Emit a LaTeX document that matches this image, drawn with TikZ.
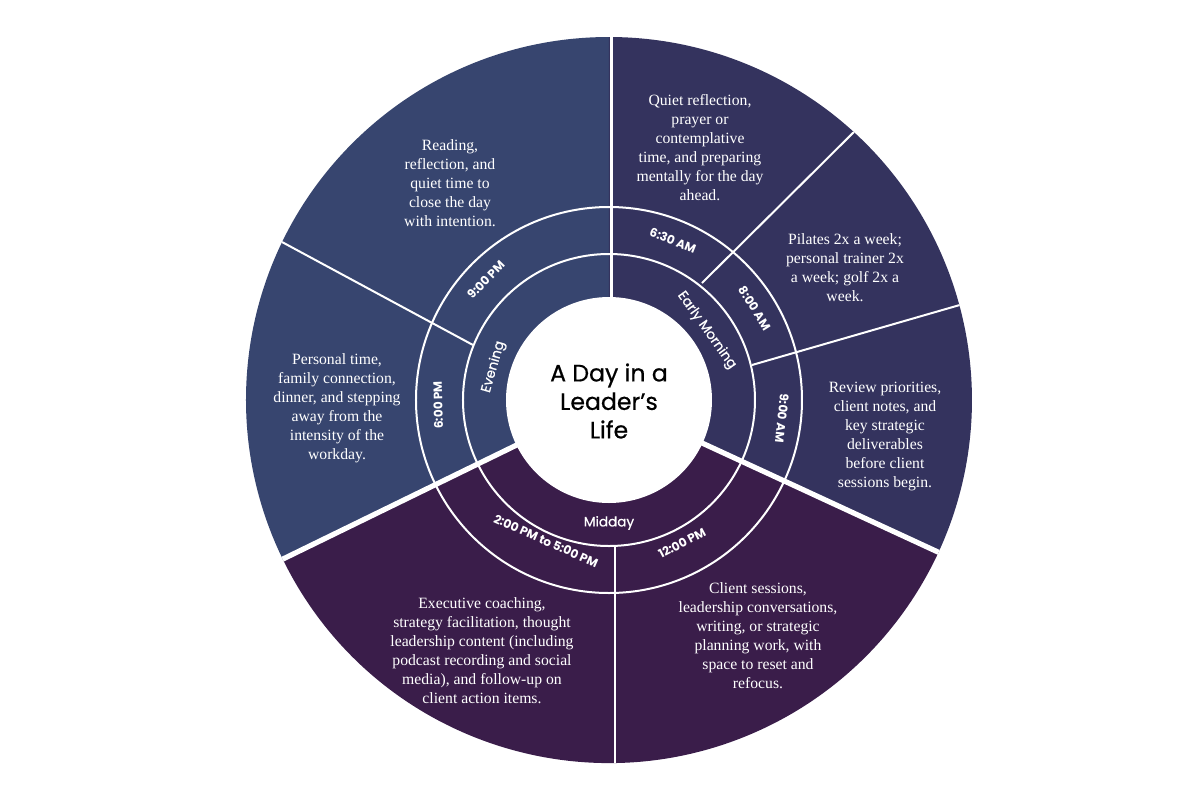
\documentclass[tikz,border=0pt]{standalone}
\usepackage{fontspec}
\newfontfamily\popfont{Poppins}
\newfontfamily\popmed{Poppins}[FakeBold=0.6]
\newfontfamily\descfont{Liberation Serif}
\definecolor{evecol}{HTML}{37456F}
\definecolor{morncol}{HTML}{34335E}
\definecolor{midcol}{HTML}{3A1D4A}
\begin{document}
\begin{tikzpicture}[x=0.5pt,y=0.5pt,
  desc/.style={text=white,font=\descfont\fontsize{7.85}{9.5}\selectfont,align=center,inner sep=0pt},
  timelbl/.style={text=white,font=\popfont\bfseries\fontsize{6}{7}\selectfont,inner sep=0pt},
  catlbl/.style={text=white,font=\popmed\fontsize{6.8}{8}\selectfont,inner sep=0pt},
  thinline/.style={draw=white,line width=1pt},
  thickline/.style={draw=white,line width=2.6pt}]
\fill[white] (-609,-400) rectangle (591,400);
\useasboundingbox (-609,-400) rectangle (591,400);
% sectors
\fill[evecol] (0,0) -- (90:363) arc[start angle=90,end angle=206,radius=363] -- cycle;
\fill[midcol] (0,0) -- (206:363) arc[start angle=206,end angle=335.2,radius=363] -- cycle;
\fill[morncol] (0,0) -- (-24.8:363) arc[start angle=-24.8,end angle=90,radius=363] -- cycle;
\begin{scope}
\clip (0,0) circle[radius=363];
\draw[thinline] (0,0) circle[radius=146];
\draw[thinline] (0,0) circle[radius=193];
\draw[white,line width=1.5pt] (3,100) -- (3,400);
\draw[thinline] (6,-146) -- (6,-400);
\draw[thickline] (-24.8:100) -- (-24.8:400);
\draw[thickline] (206:100) -- (206:400);
\draw[thinline] (93,117) -- (259,282);
\draw[thinline] (143,35) -- (375,102);
\draw[thinline] (-136,55) -- (-350,170.4);
\end{scope}
\fill[white] (0,0) circle[radius=103];
% title
\node[font=\popmed\fontsize{11.8}{14.25}\selectfont,align=center,text=black,inner sep=0pt] (title) at (0,-1) {A Day in a\\Leader’s\\Life};
% category labels
\node[catlbl,rotate=-54.5] (c1) at (35.5:120) {Early Morning};
\node[catlbl,rotate=74] (c2) at (164:120) {Evening};
\node[catlbl] (c3) at (270:123) {Midday};
% time labels
\node[timelbl,rotate=-21.8] (t1) at (68.2:172) {6:30 AM};
\node[timelbl,rotate=-57.8] (t2) at (32.2:172) {8:00 AM};
\node[timelbl,rotate=-96] (t3) at (-6:174) {9:00 AM};
\node[timelbl,rotate=28] (t4) at (73,-143) {12:00 PM};
\node[timelbl,rotate=-24] (t5) at (-63,-141) {2:00 PM to 5:00 PM};
\node[timelbl,rotate=91.7] (t6) at (181.7:171) {6:00 PM};
\node[timelbl,rotate=45.7] (t7) at (135.7:172) {9:00 PM};
% descriptions
\node[desc] (d1) at (-159,217) {Reading,\\reflection, and\\quiet time to\\close the day\\with intention.};
\node[desc] (d2) at (91,252) {Quiet reflection,\\prayer or\\contemplative\\time, and preparing\\mentally for the day\\ahead.};
\node[desc] (d3) at (236,132.5) {Pilates 2x a week;\\personal trainer 2x\\a week; golf 2x a\\week.};
\node[desc] (d4) at (276,-36) {Review priorities,\\client notes, and\\key strategic\\deliverables\\before client\\sessions begin.};
\node[desc] (d5) at (149,-235.5) {Client sessions,\\leadership conversations,\\writing, or strategic\\planning work, with\\space to reset and\\refocus.};
\node[desc] (d6) at (-127,-251) {Executive coaching,\\strategy facilitation, thought\\leadership content (including\\podcast recording and social\\media), and follow-up on\\client action items.};
\node[desc] (d7) at (-272,-8) {Personal time,\\family connection,\\dinner, and stepping\\away from the\\intensity of the\\workday.};
\end{tikzpicture}
\end{document}
